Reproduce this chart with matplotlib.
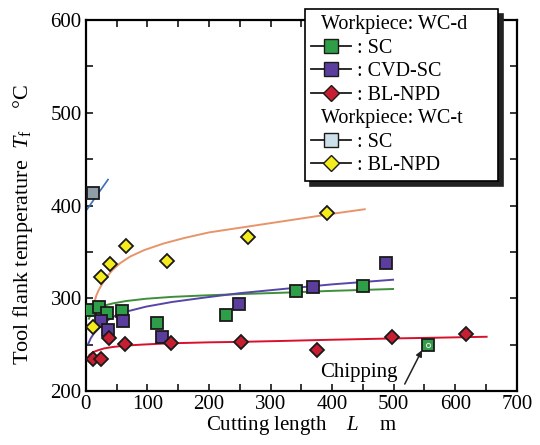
import numpy as np
import matplotlib
matplotlib.use("Agg")
import matplotlib.pyplot as plt
from matplotlib.lines import Line2D
from matplotlib.ticker import MultipleLocator

plt.rcParams["font.family"] = "Liberation Serif"
plt.rcParams["mathtext.fontset"] = "custom"
plt.rcParams["mathtext.rm"] = "Liberation Serif"
plt.rcParams["mathtext.it"] = "Liberation Serif:italic"

sc_d_L = [6, 22, 35, 58, 115, 228, 342, 450]
sc_d_T = [287, 291, 284, 286, 273, 282, 308, 313]
chip_L = [556]
chip_T = [250]

cvd_L = [24, 36, 61, 123, 248, 369, 488]
cvd_T = [275, 266, 275, 258, 294, 312, 338]

npd_d_L = [11, 24, 38, 63, 139, 252, 376, 498, 618]
npd_d_T = [235, 234, 257, 251, 252, 253, 244, 258, 261]

sc_t_L = [11]
sc_t_T = [413]

npd_t_L = [12, 25, 39, 66, 132, 264, 392]
npd_t_T = [269, 323, 337, 356, 340, 366, 392]

# fitted curves
fit_npd_t_L = [14, 17, 21, 27, 35, 44, 56, 72, 95, 126, 160, 200, 250, 300, 360, 410, 453]
fit_npd_t_T = [296, 303, 309, 316, 324, 331, 338, 345, 352, 359, 365, 371, 376, 381, 387, 392, 396]
fit_sc_d_L = [5, 9, 15, 22, 32, 44, 65, 98, 140, 190, 250, 320, 400, 499]
fit_sc_d_T = [278, 284, 288, 290, 292.5, 294.5, 297, 299.5, 301.5, 303, 304.5, 306, 308, 310]
fit_cvd_L = [4, 8, 13, 23, 33, 44, 65, 98, 140, 190, 250, 320, 400, 499]
fit_cvd_T = [251, 257, 262, 269, 275, 280, 285.5, 291, 296, 300.5, 305.5, 310, 315, 320]
fit_npd_d_L = [6, 12, 20, 30, 44, 65, 90, 120, 153, 200, 250, 320, 380, 450, 500, 570, 651]
fit_npd_d_T = [239, 242, 244, 246, 247.5, 249, 250, 251, 251.7, 252.5, 253, 254, 255, 256, 256.7, 257.5, 258.5]
fit_sc_t_L = [2, 36]
fit_sc_t_T = [396, 428]

green = "#2f9e48"
purple = "#5a3d9c"
red = "#c81e32"
yellow = "#f4ec1c"
lightblue = "#cddfe8"

fig = plt.figure(figsize=(5.4, 4.45), dpi=100)
ax = fig.add_axes([0.159, 0.1213, 0.798, 0.8337])

ax.plot(fit_npd_t_L, fit_npd_t_T, color="#e8946a", lw=1.4)
ax.plot(fit_sc_d_L, fit_sc_d_T, color="#3d8f3a", lw=1.4)
ax.plot(fit_cvd_L, fit_cvd_T, color="#5646a8", lw=1.4)
ax.plot(fit_npd_d_L, fit_npd_d_T, color="#d8102c", lw=1.4)
ax.plot(fit_sc_t_L, fit_sc_t_T, color="#3a6fb0", lw=1.2)

mk = dict(ls="none", mec="#1a1a1a", mew=1.3)
ax.plot(sc_d_L, sc_d_T, marker="s", ms=8.5, mfc=green, zorder=3, **mk)
ax.plot(chip_L, chip_T, marker="s", ms=8.5, mfc=green, zorder=3, **mk)
ax.plot(chip_L, chip_T, marker="o", ms=3, mfc="none", mec="#dddddd", mew=0.8, ls="none", zorder=4)
ax.plot(cvd_L, cvd_T, marker="s", ms=8.5, mfc=purple, zorder=3, **mk)
ax.plot(npd_d_L, npd_d_T, marker="D", ms=7.5, mfc=red, zorder=4, **mk)
ax.plot(sc_t_L, sc_t_T, marker="s", ms=8.5, mfc="#8f9fa8", zorder=3, **mk)
ax.plot(npd_t_L, npd_t_T, marker="D", ms=7.5, mfc=yellow, zorder=4, **mk)

ax.text(443, 220, "Chipping", ha="center", va="center", fontsize=15)
ax.annotate("", xy=(546, 244), xytext=(518, 207.5),
            arrowprops=dict(arrowstyle="-|>", color="#222222", lw=1.1,
                            mutation_scale=9, shrinkA=0, shrinkB=0))

ax.set_xlim(0, 700)
ax.set_ylim(200, 600)
ax.xaxis.set_major_locator(MultipleLocator(100))
ax.xaxis.set_minor_locator(MultipleLocator(50))
ax.yaxis.set_major_locator(MultipleLocator(100))
ax.yaxis.set_minor_locator(MultipleLocator(50))
ax.tick_params(which="both", direction="in", length=5, width=1.1,
               top=True, right=True, labelsize=15, pad=3)
for s in ax.spines.values():
    s.set_linewidth(1.6)

ax.set_xlabel(r"Cutting length    $L$    m", fontsize=15, labelpad=0)
ax.set_ylabel(r"Tool flank temperature  $T_\mathrm{f}$    °C", fontsize=16)
ax.yaxis.set_label_coords(-0.118, 0.45)

blank = Line2D([], [], ls="none")
handles = [
    blank,
    Line2D([], [], color="#1a1a1a", lw=1.3, marker="s", ms=9.5, mfc=green, mec="#1a1a1a"),
    Line2D([], [], color="#1a1a1a", lw=1.3, marker="s", ms=9.5, mfc=purple, mec="#1a1a1a"),
    Line2D([], [], color="#1a1a1a", lw=1.3, marker="D", ms=8.5, mfc=red, mec="#1a1a1a"),
    blank,
    Line2D([], [], color="#1a1a1a", lw=1.3, marker="s", ms=9.5, mfc=lightblue, mec="#1a1a1a"),
    Line2D([], [], color="#1a1a1a", lw=1.3, marker="D", ms=8.5, mfc=yellow, mec="#1a1a1a"),
]
labels = ["Workpiece: WC-d", ": SC", ": CVD-SC", ": BL-NPD",
          "Workpiece: WC-t", ": SC", ": BL-NPD"]
leg = ax.legend(handles, labels, loc="upper left",
                bbox_to_anchor=(0.508, 0, 0.448, 1.0296), mode="expand",
                borderaxespad=0, fontsize=14.5, frameon=True, fancybox=False,
                handlelength=2.0, handletextpad=0.3, labelspacing=0.22, borderpad=0.3,
                shadow={"color": "#222222", "alpha": 1.0, "ox": 3.5, "oy": -3.5})
leg.get_frame().set_edgecolor("black")
leg.get_frame().set_linewidth(1.2)
leg.get_frame().set_alpha(1)
# header rows: short indent instead of a handle
rows = leg._legend_handle_box.get_children()[0].get_children()
for i in (0, 4):
    hp = rows[i]
    da = hp.get_children()[0]
    da.width = 7
    hp.sep = 0

fig.savefig("out.png", dpi=100)
